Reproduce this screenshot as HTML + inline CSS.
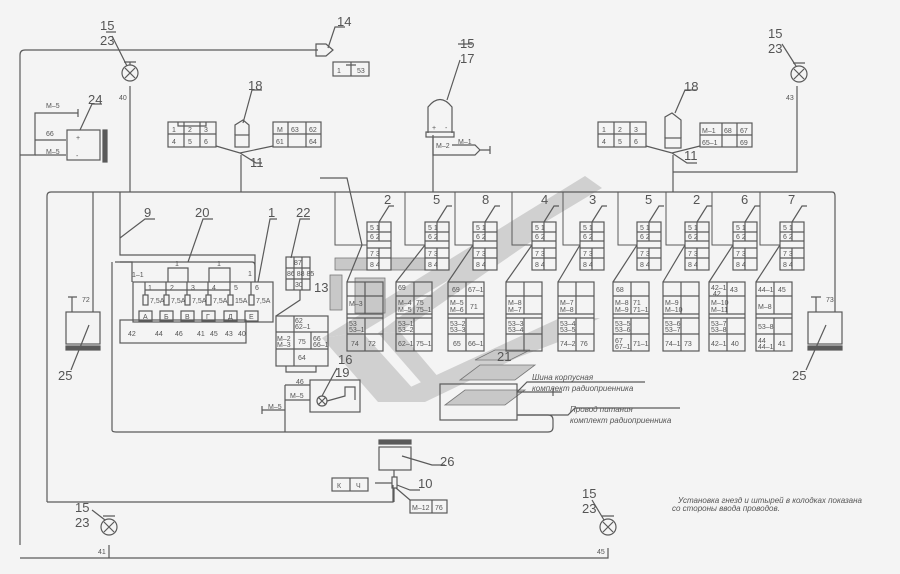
<!DOCTYPE html>
<html><head><meta charset="utf-8"><style>
html,body{margin:0;padding:0;background:#f4f4f4}
svg{display:block}
text{font-family:"Liberation Sans",sans-serif;fill:#555}
.s{font-size:7px}
.m{font-size:8px}
.n{font-size:13px}
</style></head><body>
<svg width="900" height="574" viewBox="0 0 900 574" xmlns="http://www.w3.org/2000/svg" fill="none" stroke="#5a5a5a" stroke-width="1.2">
<!-- watermark -->
<g fill="#d0d0d0" stroke="none">
<polygon points="585,176 602,188 362,332 322,338"/>
<polygon points="322,338 362,332 425,402 378,402"/>
<polygon points="378,402 425,402 600,318 560,318"/>
<polygon points="520,228 545,232 400,332 378,333"/>
<polygon points="378,333 400,332 445,385 425,387"/>
<polygon points="425,387 445,385 590,330 570,326"/>
</g>
<g fill="#c8c8c8" stroke="#777" stroke-width="0.8">
<rect x="335" y="258" width="110" height="12"/>
<rect x="330" y="275" width="12" height="35"/>
<rect x="355" y="278" width="30" height="35"/>
<polygon points="445,405 465,390 525,390 505,405"/>
<polygon points="460,380 480,365 535,365 515,380"/>
<polygon points="475,360 495,350 530,350 510,360"/>
</g>
<!-- main wires -->
<path d="M20,545 V55 Q20,50 25,50 H318"/>
<path d="M20,558 H608 V548"/>
<path d="M109,558 V545"/>
<path d="M47,502 V196 Q47,192 51,192 H832 Q835,192 835,196 V312"/>
<path d="M47,502 H393 V485"/>
<path d="M93,192 V312"/>
<path d="M120,192 V255 H255 V282"/>
<path d="M130,86 V192"/>
<path d="M241,155 V192"/>
<path d="M433,135 V192"/>
<path d="M673,155 V192"/>
<path d="M673,172 H797 V86"/>
<path d="M20,155 H35 V113 H60"/>
<path d="M35,140 H66 M35,155 H66"/>
<path d="M60,113 H78 M78,109 V117"/>
<path d="M112,262 V430 Q112,432 116,432 H548 Q553,432 553,427 V420 Q553,415 548,415 H518"/>
<path d="M115,262 H132 V282"/>
<!-- lamp top left 15/23 -->
<circle cx="130" cy="73" r="8"/><path d="M125,68 L135,78 M135,68 L125,78 M124,62 H136 M130,62 V65"/>
<path d="M112,36 L127,66 M106,32 H116"/>
<text class="n" x="100" y="30" stroke="none">15</text><text class="n" x="100" y="45" stroke="none">23</text>
<text class="s" x="119" y="100" stroke="none">40</text>
<!-- lamp top right -->
<circle cx="799" cy="74" r="8"/><path d="M794,69 L804,79 M804,69 L794,79 M793,63 H805"/>
<path d="M782,44 L796,66"/>
<text class="n" x="768" y="38" stroke="none">15</text><text class="n" x="768" y="53" stroke="none">23</text>
<text class="s" x="786" y="100" stroke="none">43</text>
<!-- bottom lamps -->
<circle cx="109" cy="527" r="8"/><path d="M104,522 L114,532 M114,522 L104,532 M103,516 H115"/>
<path d="M92,510 L105,520"/>
<text class="n" x="75" y="512" stroke="none">15</text><text class="n" x="75" y="527" stroke="none">23</text>
<text class="s" x="98" y="554" stroke="none">41</text>
<circle cx="608" cy="527" r="8"/><path d="M603,522 L613,532 M613,522 L603,532 M602,516 H614"/>
<path d="M592,500 L604,520"/>
<text class="n" x="582" y="498" stroke="none">15</text><text class="n" x="582" y="513" stroke="none">23</text>
<text class="s" x="597" y="554" stroke="none">45</text>
<!-- 14 -->
<path d="M316,44 H326 L333,50 L326,56 H316 Z"/>
<rect x="333" y="62" width="36" height="14"/><path d="M351,62 V76 M346,65 H356"/>
<text class="s" x="337" y="73" stroke="none">1</text><text class="s" x="357" y="73" stroke="none">53</text>
<path d="M328,48 L335,27 H345"/><text class="n" x="337" y="26" stroke="none">14</text>
<!-- 24 -->
<rect x="67" y="130" width="33" height="30"/><rect x="103" y="130" width="4" height="32" fill="#5a5a5a"/>
<text class="s" x="46" y="108" stroke="none">M–5</text>
<text class="s" x="46" y="136" stroke="none">66</text>
<text class="s" x="46" y="154" stroke="none">M–5</text>
<text class="s" x="76" y="140" stroke="none">+</text><text class="s" x="76" y="158" stroke="none">-</text>
<path d="M80,130 L92,104 H102"/><text class="n" x="88" y="104" stroke="none">24</text>
<!-- 18 left -->
<rect x="168" y="122" width="48" height="25"/><path d="M168,134 H216 M184,122 V147 M200,122 V147 M178,122 V126 H206 V122"/>
<text class="s" x="172" y="132" stroke="none">1</text><text class="s" x="188" y="132" stroke="none">2</text><text class="s" x="204" y="132" stroke="none">3</text>
<text class="s" x="172" y="144" stroke="none">4</text><text class="s" x="188" y="144" stroke="none">5</text><text class="s" x="204" y="144" stroke="none">6</text>
<rect x="235" y="135" width="14" height="12"/><path d="M235,135 V125 L243,120 L249,125 V135"/>
<path d="M216,146 L240,153 L273,146 M240,153 L256,163 H262"/>
<text class="n" x="250" y="167" stroke="none">11</text>
<path d="M243,123 L252,90 H262"/><text class="n" x="248" y="90" stroke="none">18</text>
<rect x="273" y="122" width="48" height="25"/><path d="M273,134 H321 M288,122 V147 M306,122 V147"/>
<text class="s" x="277" y="132" stroke="none">M</text><text class="s" x="291" y="132" stroke="none">63</text><text class="s" x="309" y="132" stroke="none">62</text>
<text class="s" x="276" y="144" stroke="none">61</text><text class="s" x="309" y="144" stroke="none">64</text>
<!-- 18 right -->
<rect x="598" y="122" width="48" height="25"/><path d="M598,134 H646 M614,122 V147 M630,122 V147"/>
<text class="s" x="602" y="132" stroke="none">1</text><text class="s" x="618" y="132" stroke="none">2</text><text class="s" x="634" y="132" stroke="none">3</text>
<text class="s" x="602" y="144" stroke="none">4</text><text class="s" x="618" y="144" stroke="none">5</text><text class="s" x="634" y="144" stroke="none">6</text>
<rect x="665" y="138" width="16" height="10"/><path d="M665,138 V117 L672,113 L681,120 V138"/>
<path d="M646,146 L672,153 L700,146 M672,153 L687,163 H697"/>
<text class="n" x="684" y="160" stroke="none">11</text>
<path d="M675,113 L685,90 H697"/><text class="n" x="684" y="91" stroke="none">18</text>
<rect x="700" y="123" width="52" height="24"/><path d="M700,135 H752 M722,123 V147 M737,123 V147"/>
<text class="s" x="702" y="133" stroke="none">M–1</text><text class="s" x="724" y="133" stroke="none">68</text><text class="s" x="740" y="133" stroke="none">67</text>
<text class="s" x="702" y="145" stroke="none">65–1</text><text class="s" x="740" y="145" stroke="none">69</text>
<!-- 15/17 -->
<path d="M428,133 V107 Q440,92 452,107 V133"/><rect x="426" y="132" width="28" height="5"/>
<text class="s" x="432" y="130" stroke="none">+</text><text class="s" x="445" y="130" stroke="none">-</text>
<path d="M433,137 V155 H475 L480,150 H490 M480,150 L475,145 H452 M490,146 V154"/>
<text class="s" x="436" y="148" stroke="none">M–2</text><text class="s" x="458" y="144" stroke="none">M–1</text>
<path d="M447,100 L460,60 M458,44 H472"/>
<text class="n" x="460" y="48" stroke="none">15</text><text class="n" x="460" y="63" stroke="none">17</text>
<path d="M320,178 H347 L362,245"/>
<g stroke-width="1">
<path d="M335,192 V245 H367 M405,192 V245 H425 M455,192 V245 H473 M512,192 V245 H532 M563,192 V245 H580 M618,192 V245 H637 M666,192 V245 H685 M712,192 V245 H733 M760,192 V245 H780"/>
</g>
<g fill="#f4f4f4">
<rect x="367" y="222" width="24" height="48"/><rect x="425" y="222" width="24" height="48"/><rect x="473" y="222" width="24" height="48"/><rect x="532" y="222" width="24" height="48"/><rect x="580" y="222" width="24" height="48"/><rect x="637" y="222" width="24" height="48"/><rect x="685" y="222" width="24" height="48"/><rect x="733" y="222" width="24" height="48"/><rect x="780" y="222" width="24" height="48"/>
</g>
<g>
<path d="M367,232 H391 M367,241 H391 M367,248 H391 M367,258 H391 M379,222 V241 M379,248 V270"/>
<path d="M425,232 H449 M425,241 H449 M425,248 H449 M425,258 H449 M437,222 V241 M437,248 V270"/>
<path d="M473,232 H497 M473,241 H497 M473,248 H497 M473,258 H497 M485,222 V241 M485,248 V270"/>
<path d="M532,232 H556 M532,241 H556 M532,248 H556 M532,258 H556 M544,222 V241 M544,248 V270"/>
<path d="M580,232 H604 M580,241 H604 M580,248 H604 M580,258 H604 M592,222 V241 M592,248 V270"/>
<path d="M637,232 H661 M637,241 H661 M637,248 H661 M637,258 H661 M649,222 V241 M649,248 V270"/>
<path d="M685,232 H709 M685,241 H709 M685,248 H709 M685,258 H709 M697,222 V241 M697,248 V270"/>
<path d="M733,232 H757 M733,241 H757 M733,248 H757 M733,258 H757 M745,222 V241 M745,248 V270"/>
<path d="M780,232 H804 M780,241 H804 M780,248 H804 M780,258 H804 M792,222 V241 M792,248 V270"/>
</g>
<g class="s" stroke="none" fill="#555">
<text x="370" y="230">5 1</text><text x="370" y="239">6 2</text><text x="370" y="256">7 3</text><text x="370" y="267">8 4</text>
<text x="428" y="230">5 1</text><text x="428" y="239">6 2</text><text x="428" y="256">7 3</text><text x="428" y="267">8 4</text>
<text x="476" y="230">5 1</text><text x="476" y="239">6 2</text><text x="476" y="256">7 3</text><text x="476" y="267">8 4</text>
<text x="535" y="230">5 1</text><text x="535" y="239">6 2</text><text x="535" y="256">7 3</text><text x="535" y="267">8 4</text>
<text x="583" y="230">5 1</text><text x="583" y="239">6 2</text><text x="583" y="256">7 3</text><text x="583" y="267">8 4</text>
<text x="640" y="230">5 1</text><text x="640" y="239">6 2</text><text x="640" y="256">7 3</text><text x="640" y="267">8 4</text>
<text x="688" y="230">5 1</text><text x="688" y="239">6 2</text><text x="688" y="256">7 3</text><text x="688" y="267">8 4</text>
<text x="736" y="230">5 1</text><text x="736" y="239">6 2</text><text x="736" y="256">7 3</text><text x="736" y="267">8 4</text>
<text x="783" y="230">5 1</text><text x="783" y="239">6 2</text><text x="783" y="256">7 3</text><text x="783" y="267">8 4</text>
</g>
<path d="M379,222 L389,206 H394 M437,222 L447,206 H452 M485,222 L495,206 H500 M544,222 L554,206 H559 M592,222 L602,206 H607 M649,222 L659,206 H664 M697,222 L707,206 H712 M745,222 L755,206 H760 M792,222 L802,206 H807"/>
<g class="n" stroke="none">
<text x="384" y="204">2</text><text x="433" y="204">5</text><text x="482" y="204">8</text><text x="541" y="204">4</text><text x="589" y="204">3</text><text x="645" y="204">5</text><text x="693" y="204">2</text><text x="741" y="204">6</text><text x="788" y="204">7</text>
</g>
<path d="M362,245 L347,282 M425,245 L396,282 M473,245 L448,282 M532,245 L506,282 M580,245 L558,282 M637,245 L613,282 M685,245 L663,282 M733,245 L709,282 M780,245 L756,282"/>
<g>
<rect x="347" y="282" width="36" height="69"/><path d="M347,296 H383 M347,314 H383 M347,318 H383 M347,334 H383 M365,282 V314 M365,318 V351"/>
<rect x="396" y="282" width="36" height="69"/><path d="M396,296 H432 M396,314 H432 M396,318 H432 M396,334 H432 M414,282 V314 M414,318 V351"/>
<rect x="448" y="282" width="36" height="69"/><path d="M448,296 H484 M448,314 H484 M448,318 H484 M448,334 H484 M466,282 V314 M466,318 V351"/>
<rect x="506" y="282" width="36" height="69"/><path d="M506,296 H542 M506,314 H542 M506,318 H542 M506,334 H542 M524,282 V314 M524,318 V351"/>
<rect x="558" y="282" width="36" height="69" fill="#f4f4f4"/><path d="M558,296 H594 M558,314 H594 M558,318 H594 M558,334 H594 M576,282 V314 M576,318 V351"/>
<rect x="613" y="282" width="36" height="69" fill="#f4f4f4"/><path d="M613,296 H649 M613,314 H649 M613,318 H649 M613,334 H649 M631,282 V314 M631,318 V351"/>
<rect x="663" y="282" width="36" height="69"/><path d="M663,296 H699 M663,314 H699 M663,318 H699 M663,334 H699 M681,282 V314 M681,318 V351"/>
<rect x="709" y="282" width="36" height="69"/><path d="M709,296 H745 M709,314 H745 M709,318 H745 M709,334 H745 M727,282 V314 M727,318 V351"/>
<rect x="756" y="282" width="36" height="69"/><path d="M756,296 H792 M756,314 H792 M756,318 H792 M756,334 H792 M774,282 V314 M774,318 V351"/>
</g>
<g class="s" stroke="none">
<text x="349" y="306">M–3</text><text x="349" y="326">53</text><text x="349" y="332">53–1</text><text x="351" y="346">74</text><text x="368" y="346">72</text>
<text x="398" y="290">69</text><text x="398" y="305">M–4</text><text x="398" y="312">M–5</text><text x="416" y="305">75</text><text x="416" y="312">75–1</text><text x="398" y="326">53–1</text><text x="398" y="332">53–2</text><text x="398" y="346">62–1</text><text x="416" y="346">75–1</text>
<text x="452" y="292">69</text><text x="468" y="292">67–1</text><text x="450" y="305">M–5</text><text x="450" y="312">M–6</text><text x="470" y="309">71</text><text x="450" y="326">53–2</text><text x="450" y="332">53–3</text><text x="453" y="346">65</text><text x="468" y="346">66–1</text>
<text x="508" y="305">M–8</text><text x="508" y="312">M–7</text><text x="508" y="326">53–3</text><text x="508" y="332">53–4</text>
<text x="560" y="305">M–7</text><text x="560" y="312">M–8</text><text x="560" y="326">53–4</text><text x="560" y="332">53–5</text><text x="560" y="346">74–2</text><text x="580" y="346">76</text>
<text x="616" y="292">68</text><text x="615" y="305">M–8</text><text x="615" y="312">M–9</text><text x="633" y="305">71</text><text x="633" y="312">71–1</text><text x="615" y="326">53–5</text><text x="615" y="332">53–6</text><text x="615" y="343">67</text><text x="615" y="349">67–1</text><text x="633" y="346">71–1</text>
<text x="665" y="305">M–9</text><text x="665" y="312">M–10</text><text x="665" y="326">53–6</text><text x="665" y="332">53–7</text><text x="665" y="346">74–1</text><text x="684" y="346">73</text>
<text x="711" y="290">42–1</text><text x="713" y="296">42</text><text x="730" y="292">43</text><text x="711" y="305">M–10</text><text x="711" y="312">M–11</text><text x="711" y="326">53–7</text><text x="711" y="332">53–8</text><text x="711" y="346">42–1</text><text x="731" y="346">40</text>
<text x="758" y="292">44–1</text><text x="778" y="292">45</text><text x="758" y="309">M–8</text><text x="758" y="329">53–8</text><text x="758" y="343">44</text><text x="758" y="349">44–1</text><text x="778" y="346">41</text>
</g>
<!-- 25 boxes -->
<rect x="66" y="312" width="34" height="32"/><rect x="66" y="346" width="34" height="4" fill="#5a5a5a"/><path d="M72,312 V297 M68,297 H77 M89,325 L71,370"/>
<text class="s" x="82" y="302" stroke="none">72</text><text class="n" x="58" y="380" stroke="none">25</text>
<rect x="808" y="312" width="34" height="32"/><rect x="808" y="346" width="34" height="4" fill="#5a5a5a"/><path d="M816,312 V297 M811,297 H821 M826,325 L806,370"/>
<text class="s" x="826" y="302" stroke="none">73</text><text class="n" x="792" y="380" stroke="none">25</text>
<!-- fuse block -->
<rect x="133" y="282" width="140" height="40"/>
<path d="M120,262 H252 Q255,262 255,266 V282 M168,282 V268 H188 V282 M209,282 V268 H230 V282"/>
<rect x="120" y="320" width="126" height="23"/>
<g>
<rect x="143" y="295" width="5" height="10"/><rect x="164" y="295" width="5" height="10"/><rect x="185" y="295" width="5" height="10"/><rect x="206" y="295" width="5" height="10"/><rect x="228" y="295" width="5" height="10"/><rect x="249" y="295" width="5" height="10"/>
<rect x="139" y="311" width="13" height="10"/><rect x="160" y="311" width="13" height="10"/><rect x="181" y="311" width="13" height="10"/><rect x="202" y="311" width="13" height="10"/><rect x="224" y="311" width="13" height="10"/><rect x="245" y="311" width="13" height="10"/>
<path d="M145,282 V295 M166,282 V295 M187,282 V295 M208,282 V295 M230,282 V295 M251,282 V295 M145,290 H230"/>
</g>
<g class="s" stroke="none">
<text x="150" y="303">7,5A</text><text x="171" y="303">7,5A</text><text x="192" y="303">7,5A</text><text x="213" y="303">7,5A</text><text x="235" y="303">15A</text><text x="256" y="303">7,5A</text>
<text x="143" y="319">А</text><text x="164" y="319">Б</text><text x="185" y="319">В</text><text x="206" y="319">Г</text><text x="228" y="319">Д</text><text x="249" y="319">Е</text>
<text x="132" y="277">1–1</text><text x="148" y="290">1</text><text x="170" y="290">2</text><text x="191" y="290">3</text><text x="212" y="290">4</text><text x="234" y="290">5</text><text x="255" y="290">6</text>
<text x="175" y="266">1</text><text x="217" y="266">1</text><text x="248" y="276">1</text>
<text x="128" y="336">42</text><text x="155" y="336">44</text><text x="175" y="336">46</text><text x="197" y="336">41</text><text x="210" y="336">45</text><text x="225" y="336">43</text><text x="238" y="336">40</text>
</g>
<path d="M120,238 L145,219 H155 M188,262 L203,219 H213 M258,282 L270,219 H277 M291,258 L300,219 H310"/>
<g class="n" stroke="none"><text x="144" y="217">9</text><text x="195" y="217">20</text><text x="268" y="217">1</text><text x="296" y="217">22</text></g>
<!-- 22 relay -->
<rect x="286" y="257" width="24" height="33"/><path d="M286,268 H310 M286,279 H310 M294,257 V290 M302,257 V290"/>
<text class="s" x="294" y="265" stroke="none">87</text><text class="s" x="287" y="276" stroke="none">86 88 85</text><text class="s" x="295" y="287" stroke="none">30</text>
<path d="M300,290 V300 L276,316"/>
<text class="n" x="314" y="292" stroke="none">13</text>
<!-- block 16 -->
<rect x="276" y="316" width="52" height="50"/><path d="M276,332 H328 M276,349 H328 M294,316 V366 M311,332 V349 M286,366 V372 H316 V366"/>
<g class="s" stroke="none"><text x="295" y="323">62</text><text x="295" y="329">62–1</text><text x="277" y="341">M–2</text><text x="277" y="347">M–3</text><text x="298" y="344">75</text><text x="313" y="341">66</text><text x="313" y="347">66–1</text><text x="298" y="360">64</text></g>
<text class="n" x="338" y="364" stroke="none">16</text><text class="n" x="335" y="377" stroke="none">19</text>
<!-- 19 -->
<rect x="310" y="380" width="50" height="32"/>
<circle cx="322" cy="401" r="5"/><path d="M318,397 L326,405 M326,397 L318,405 M327,401 L345,396 V387 H355 V400 M322,396 L337,368"/>
<path d="M285,405 V415 M285,385 H310 M285,400 H310 M285,385 V432 M262,410 H285 M262,406 V414"/>
<g class="s" stroke="none"><text x="296" y="384">46</text><text x="290" y="398">M–5</text><text x="268" y="409">M–5</text></g>
<!-- radio box -->
<rect x="440" y="384" width="77" height="36"/>
<path d="M517,392 H562 M553,388 V396 M517,392 L527,382 H645 M517,415 L568,415 L575,408 H680"/>
<g class="m" stroke="none" font-style="italic">
<text x="532" y="380">Шина корпусная</text><text x="532" y="391">комплект радиоприенника</text>
<text x="570" y="412">Провод питания</text><text x="570" y="423">комплект радиоприенника</text>
</g>
<text class="n" x="497" y="361" stroke="none">21</text>
<!-- 26 -->
<rect x="379" y="440" width="32" height="4" fill="#5a5a5a"/><rect x="379" y="447" width="32" height="23"/>
<path d="M402,456 L432,465 H445"/><text class="n" x="440" y="466" stroke="none">26</text>
<rect x="392" y="477" width="5" height="11"/><path d="M394,470 V477 M394,488 V502 M375,483 H392 M397,485 L410,490 H420 M396,488 L410,500"/>
<text class="n" x="418" y="488" stroke="none">10</text>
<rect x="332" y="478" width="36" height="13"/><path d="M350,478 V491"/>
<text class="s" x="337" y="488" stroke="none">К</text><text class="s" x="356" y="488" stroke="none">Ч</text>
<rect x="410" y="500" width="37" height="13"/><path d="M432,500 V513"/>
<text class="s" x="412" y="510" stroke="none">M–12</text><text class="s" x="435" y="510" stroke="none">76</text>
<!-- note -->
<text class="m" x="678" y="503" stroke="none" font-style="italic">Установка гнезд и штырей в колодках показана</text>
<text class="m" x="672" y="511" stroke="none" font-style="italic">со стороны ввода проводов.</text>
</svg>
</body></html>
